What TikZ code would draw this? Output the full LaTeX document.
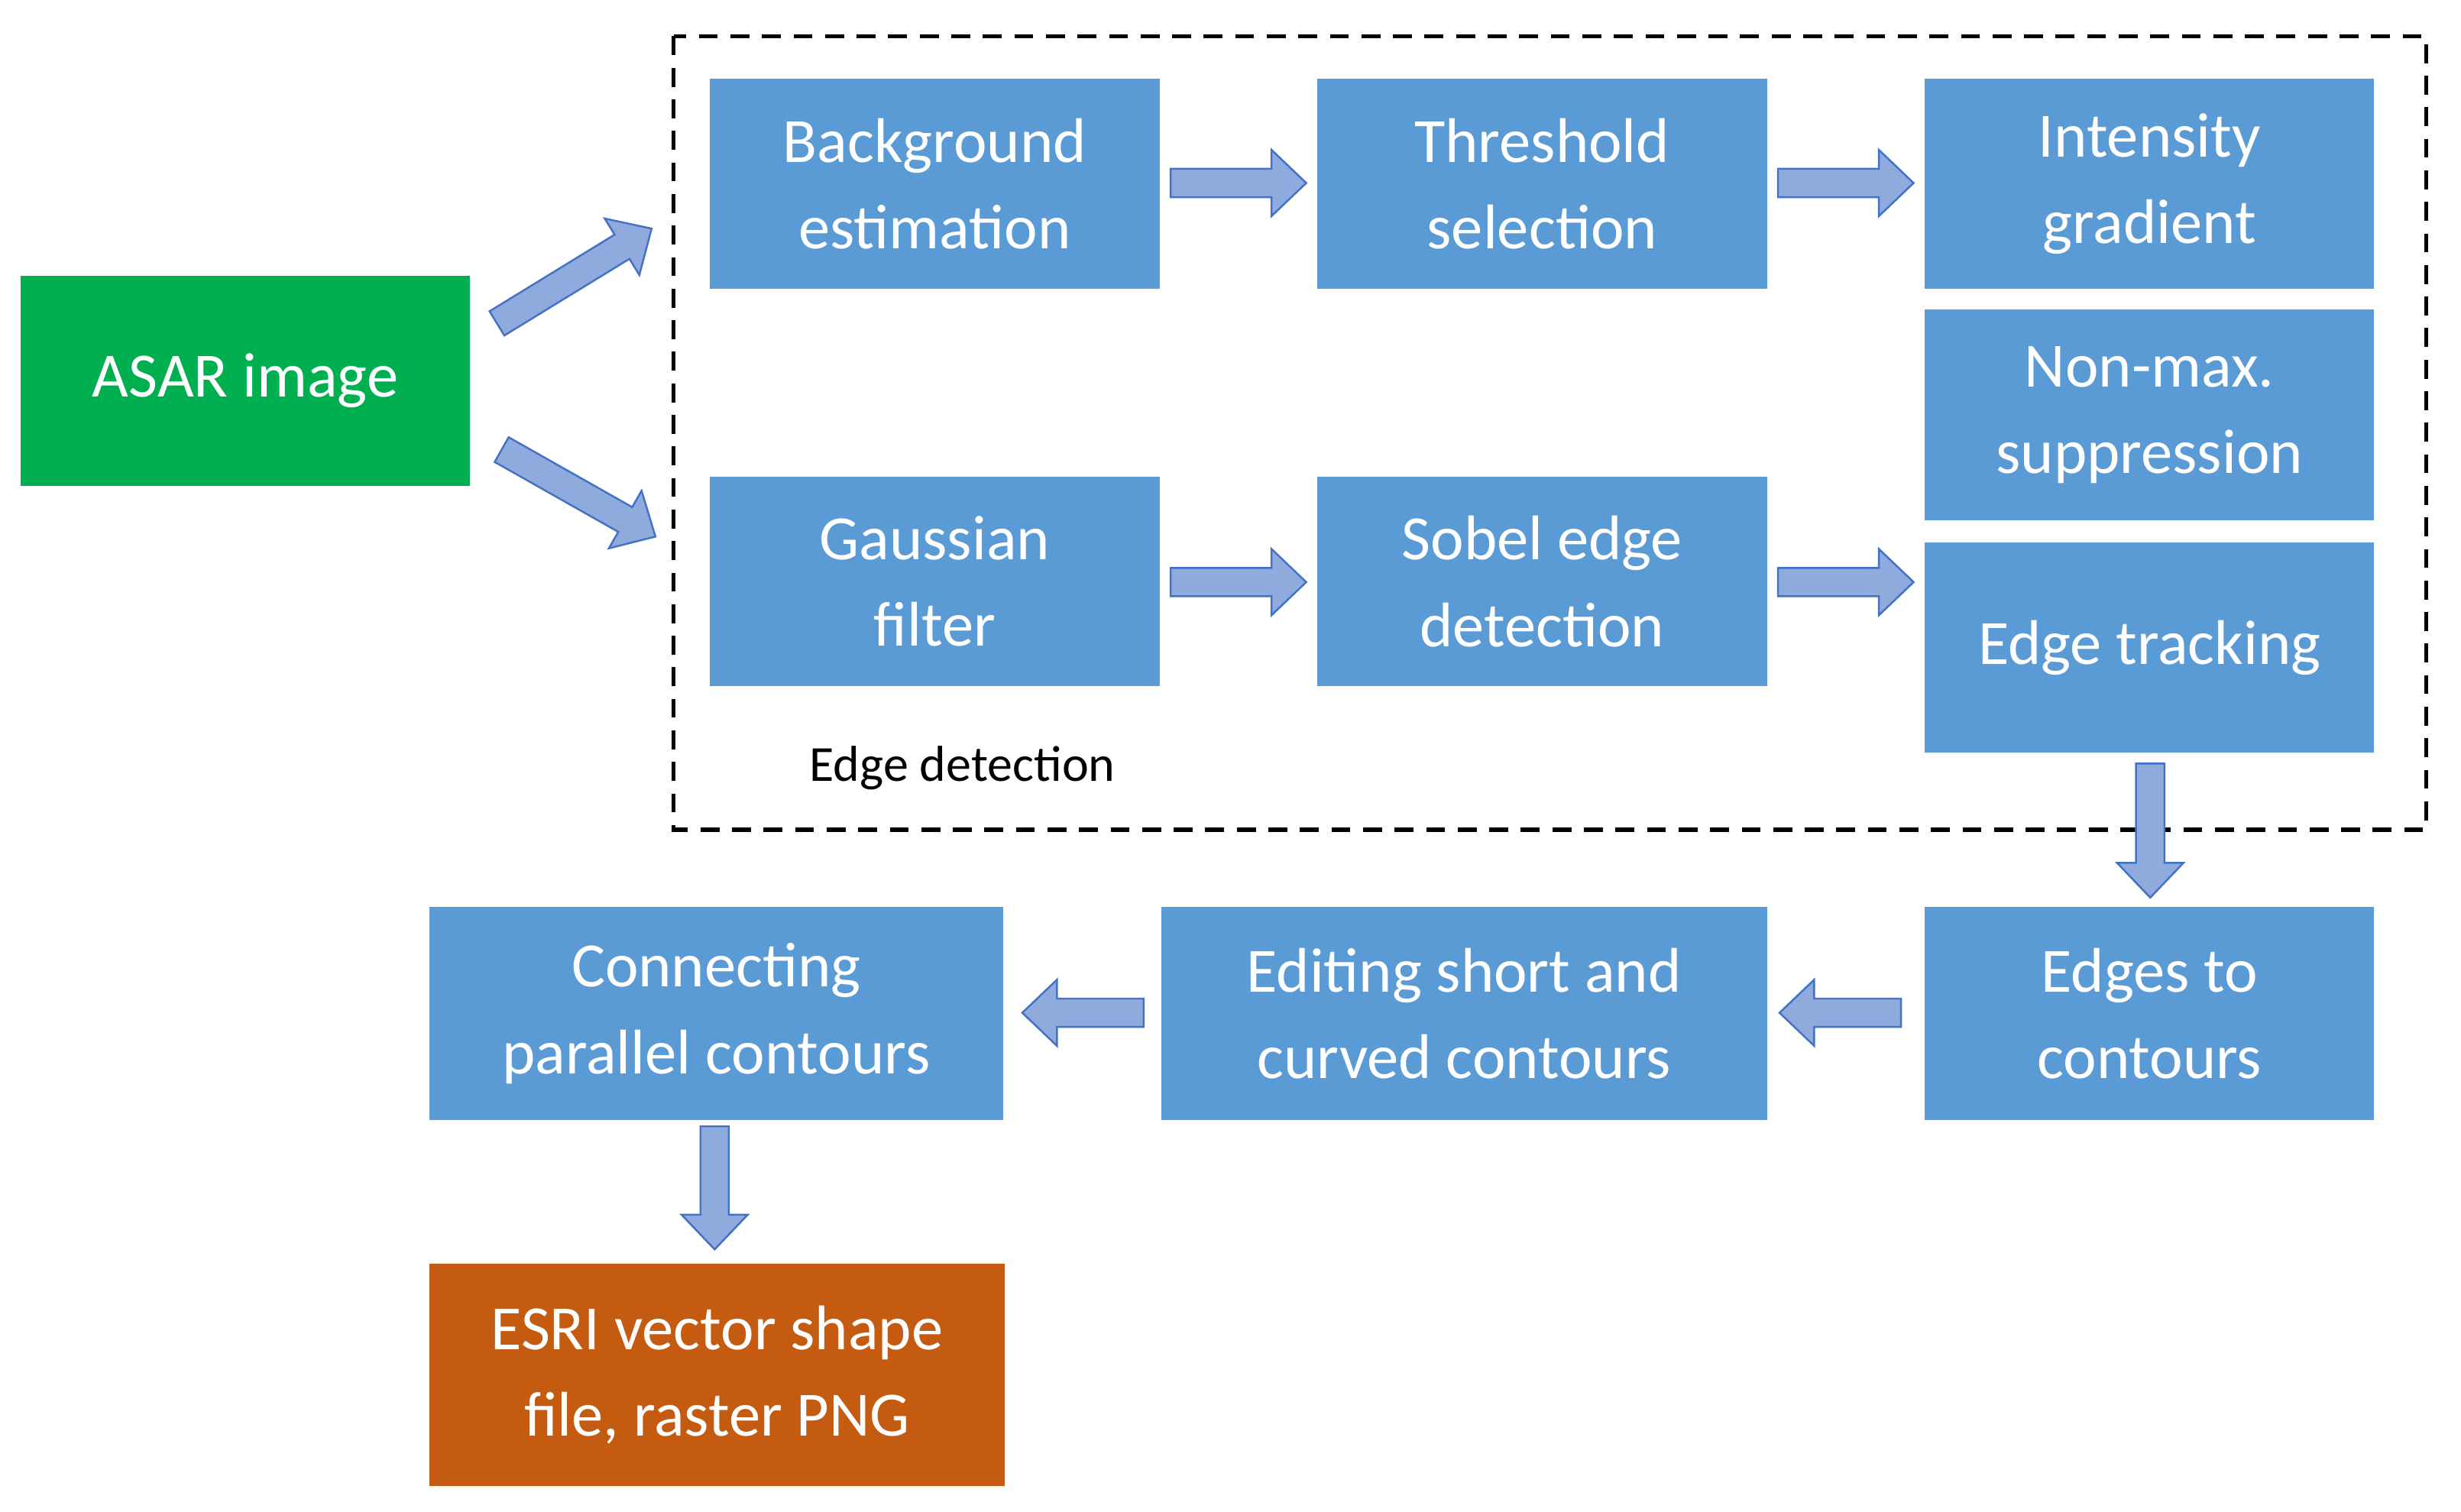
\documentclass[tikz,border=0pt]{standalone}
\usepackage{fontspec}
\setmainfont{Carlito}
\begin{document}
\begin{tikzpicture}[x=1pt,y=1pt,
  box/.style={draw=none,inner sep=0pt,align=center,text=white,font=\fontsize{40}{55}\selectfont},
  arrowst/.style={fill=blue!20!cyan!10!white!0!black!0,fill={rgb,255:red,143;green,170;blue,220},draw={rgb,255:red,68;green,114;blue,196},line width=1.2pt,line join=miter},
  pics/barrow/.style={code={\draw[arrowst] (0,-9) -- (#1-22,-9) -- (#1-22,-21) -- (#1,0) -- (#1-22,21) -- (#1-22,9) -- (0,9) -- cycle;}}]
\definecolor{bl}{RGB}{91,155,213}
\definecolor{gr}{RGB}{0,176,80}
\definecolor{or}{RGB}{197,90,17}
\useasboundingbox (0,0) rectangle (1560,-958);
\def\bx#1#2#3#4#5#6#7{\fill[#6] (#2,-#3) rectangle (#4,-#5); \node[box] (#1) at ({(#2+#4)/2},{-(#3+#5)/2}) {#7};}
\draw[dashed,line width=2.5pt,dash pattern=on 12pt off 8pt] (427,-23) rectangle (1538,-526);
\bx{asar}{13}{175}{298}{308}{gr}{ASAR image}
\bx{bg}{450}{50}{735}{183}{bl}{Background\\estimation}
\bx{th}{835}{50}{1120}{183}{bl}{Threshold\\selection}
\bx{ig}{1220}{50}{1505}{183}{bl}{Intensity\\gradient}
\bx{nm}{1220}{196}{1505}{330}{bl}{Non-max.\\suppression}
\bx{ga}{450}{302}{735}{435}{bl}{Gaussian\\filter}
\bx{so}{835}{302}{1120}{435}{bl}{Sobel edge\\detection}
\bx{et}{1220}{344}{1505}{477}{bl}{Edge tracking}
\bx{ec}{1220}{575}{1505}{710}{bl}{Edges to\\contours}
\bx{ed}{736}{575}{1120}{710}{bl}{Editing short and\\curved contours}
\bx{cp}{272}{575}{636}{710}{bl}{Connecting\\parallel contours}
\bx{es}{272}{801}{637}{942}{or}{ESRI vector shape\\file, raster PNG}
\node[font=\fontsize{32}{40}\selectfont,inner sep=0pt] (lbl) at (610,-487) {Edge detection};
\pic[rotate=31.5] at (315,-205) {barrow=115};
\pic[rotate=-29.5] at (318,-285) {barrow=112};
\pic at (742,-116) {barrow=86};
\pic at (1127,-116) {barrow=86};
\pic at (742,-369) {barrow=86};
\pic at (1127,-369) {barrow=86};
\pic[rotate=-90] at (1363,-484) {barrow=85};
\pic[rotate=180] at (1205,-642) {barrow=77};
\pic[rotate=180] at (725,-642) {barrow=77};
\pic[rotate=-90] at (453,-714) {barrow=78};
\end{tikzpicture}
\end{document}
